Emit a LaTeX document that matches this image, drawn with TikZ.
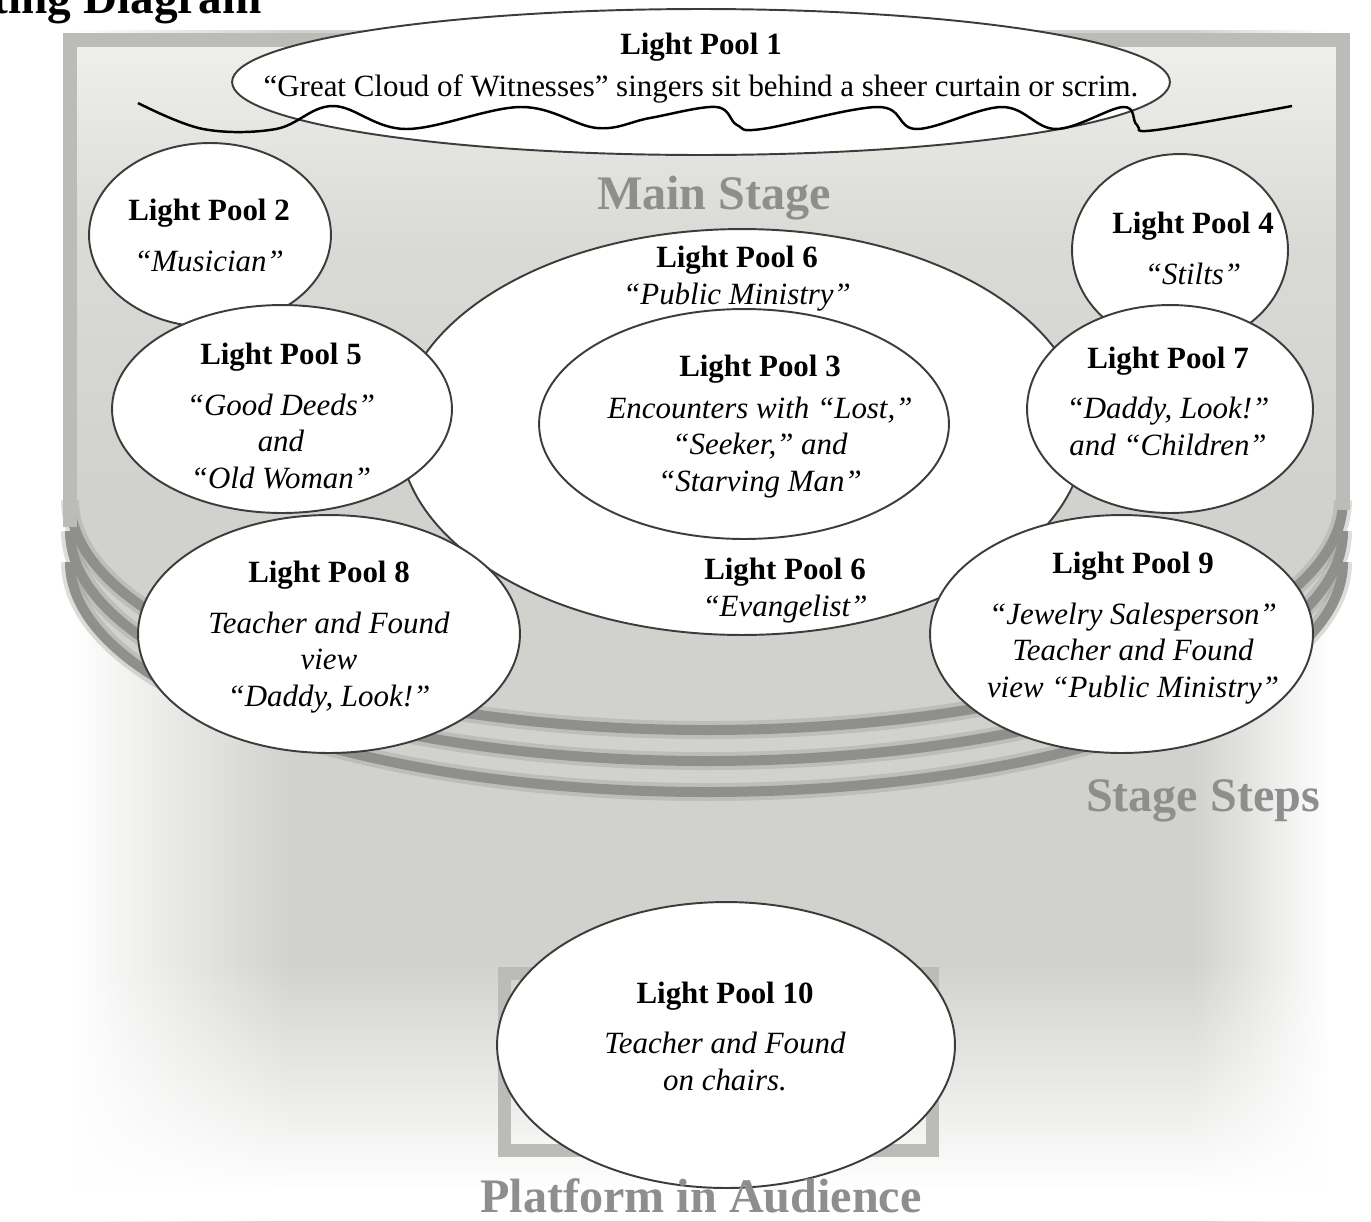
\documentclass[tikz,border=0pt]{standalone}
\usepackage{fontspec}
\setmainfont{Liberation Serif}
\usetikzlibrary{shapes.geometric,fadings}

\definecolor{poolline}{HTML}{3C3C3C}
\definecolor{stagegray}{HTML}{BBBBB7}
\definecolor{stepgray}{HTML}{8F908B}
\definecolor{floortop}{HTML}{EFEFEC}
\definecolor{floormid}{HTML}{DADAD6}
\definecolor{floorlow}{HTML}{D1D2CD}
\definecolor{labelgray}{HTML}{8E8E8E}

\pgfdeclarehorizontalshading{audience}{100bp}{color(0bp)=(white); color(27.5bp)=(white); color(35.5bp)=(floorlow); color(68.5bp)=(floorlow); color(73.5bp)=(white); color(100bp)=(white)}
\pgfdeclareverticalshading{stagefloor}{100bp}{color(0bp)=(floorlow); color(45bp)=(floorlow); color(62bp)=(floormid); color(75bp)=(floortop); color(100bp)=(floortop)}
\tikzfading[name=fadedown, top color=transparent!100, bottom color=transparent!0]

\begin{document}
\begin{tikzpicture}[x=0.02cm, y=-0.02cm,
  pool/.style={ellipse, draw=poolline, line width=1.1pt, fill=white, inner sep=0pt},
  pooltext/.style={align=center, inner sep=0pt, anchor=base, font=\fontsize{17.6}{20.7}\selectfont},
  areatext/.style={text=labelgray, inner sep=0pt, anchor=base, font=\fontsize{27.4}{30}\selectfont\bfseries},
  stepglow/.style={draw=stepgray, line width=0.36cm, opacity=0.3},
  stepline/.style={draw=stepgray, line width=0.2cm},
  stageedge/.style={draw=stagegray, line width=0.28cm}]
  \useasboundingbox (0,0) rectangle (1371,1221);
  \clip (0,0) rectangle (1371,1221);

  % Audience shadow
  \shade[shading=audience] (0,30) rectangle (1371,1221);
  \fill[white, path fading=fadedown] (0,960) rectangle (1371,1190);
  \fill[white] (0,1190) rectangle (1371,1221);

  % Main stage floor
  \shade[shading=stagefloor] (70,40) -- (70,562)
    arc[start angle=180, end angle=0, x radius=636.5, y radius=230] -- (1343,40) -- cycle;

  % Stage steps
  \foreach \dy in {0,31,62} {
    \draw[stepglow] (70,{500+\dy}) arc[start angle=180, end angle=0, x radius=636.5, y radius=230];
    \draw[stepline] (70,{500+\dy}) arc[start angle=180, end angle=0, x radius=636.5, y radius=230];
  }
  \draw[stageedge] (70,527) -- (70,40) -- (1343,40) -- (1343,510);

  % Platform in the audience
  \draw[stageedge, line width=0.26cm] (504.5,973.5) rectangle (932.5,1150.5);

  % Area labels
  \node[areatext] (mainstage) at (714,209) {Main Stage};
  \node[areatext] (steps) at (1203,811) {Stage Steps};
  \node[inner sep=0pt, anchor=base east, font=\fontsize{26.9}{30}\selectfont\bfseries] (title) at (262,13) {Lighting Diagram};

  % Light pool 1 and the scrim
  \node[pool, minimum width=18.76cm, minimum height=2.92cm] (lp1) at (701,82) {};
  \node[pooltext] (t1) at (701,96) {\textbf{Light Pool 1}\\[3pt]“Great Cloud of Witnesses” singers sit behind a sheer curtain or scrim.};
  \draw[line width=1.4pt, black] plot[smooth, tension=0.6] coordinates {(138,103) (203,129) (276,129) (333,106) (406,129) (521,107) (597,128) (650,118) (716,107) (737,125) (762,129) (878,107) (917,129) (1002,107) (1056,129) (1123,107) (1137,125) (1156,130) (1292,106)};

  % Upper corner pools
  \node[pool, minimum width=4.84cm, minimum height=3.68cm] (lp2) at (210,235) {};
  \node[pooltext] (t2) at (209,271) {\textbf{Light Pool 2}\\[8pt]\textit{“Musician”}};
  \node[pool, minimum width=4.32cm, minimum height=3.84cm] (lp4) at (1180,250) {};
  \node[pooltext] (t4) at (1193,284) {\textbf{Light Pool 4}\\[8pt]\textit{“Stilts”}};

  % Centre pools
  \node[pool, minimum width=13.72cm, minimum height=8.12cm] (lp6) at (742,432) {};
  \node[pool, minimum width=8.2cm, minimum height=4.6cm] (lp3) at (744,424) {};
  \node[pooltext] (t6a) at (737,304) {\textbf{Light Pool 6}\\\textit{“Public Ministry”}};
  \node[pooltext] (t6b) at (785,616) {\textbf{Light Pool 6}\\\textit{“Evangelist”}};
  \node[pooltext] (t3) at (760,491) {\textbf{Light Pool 3}\\[3pt]\textit{Encounters with “Lost,”}\\\textit{“Seeker,” and}\\\textit{“Starving Man”}};

  % Side pools
  \node[pool, minimum width=6.8cm, minimum height=4.16cm] (lp5) at (282,409) {};
  \node[pooltext] (t5) at (281,488) {\textbf{Light Pool 5}\\[8pt]\textit{“Good Deeds”}\\\textit{and}\\\textit{“Old Woman”}};
  \node[pool, minimum width=5.72cm, minimum height=4.16cm] (lp7) at (1170,409) {};
  \node[pooltext] (t7) at (1168,455) {\textbf{Light Pool 7}\\[8pt]\textit{“Daddy, Look!”}\\\textit{and “Children”}};
  \node[pool, minimum width=7.64cm, minimum height=4.76cm] (lp8) at (329,634) {};
  \node[pooltext] (t8) at (329,706) {\textbf{Light Pool 8}\\[8pt]\textit{Teacher and Found}\\\textit{view}\\\textit{“Daddy, Look!”}};
  \node[pool, minimum width=7.66cm, minimum height=4.76cm] (lp9) at (1121.5,634) {};
  \node[pooltext] (t9) at (1133,697) {\textbf{Light Pool 9}\\[8pt]\textit{“Jewelry Salesperson”}\\\textit{Teacher and Found}\\\textit{view “Public Ministry”}};

  % Audience pool
  \node[pool, minimum width=9.16cm, minimum height=5.72cm] (lp10) at (726,1045) {};
  \node[pooltext] (t10) at (725,1090) {\textbf{Light Pool 10}\\[8pt]\textit{Teacher and Found}\\\textit{on chairs.}};
  \node[areatext] (platform) at (701,1212) {Platform in Audience};
\end{tikzpicture}
\end{document}
